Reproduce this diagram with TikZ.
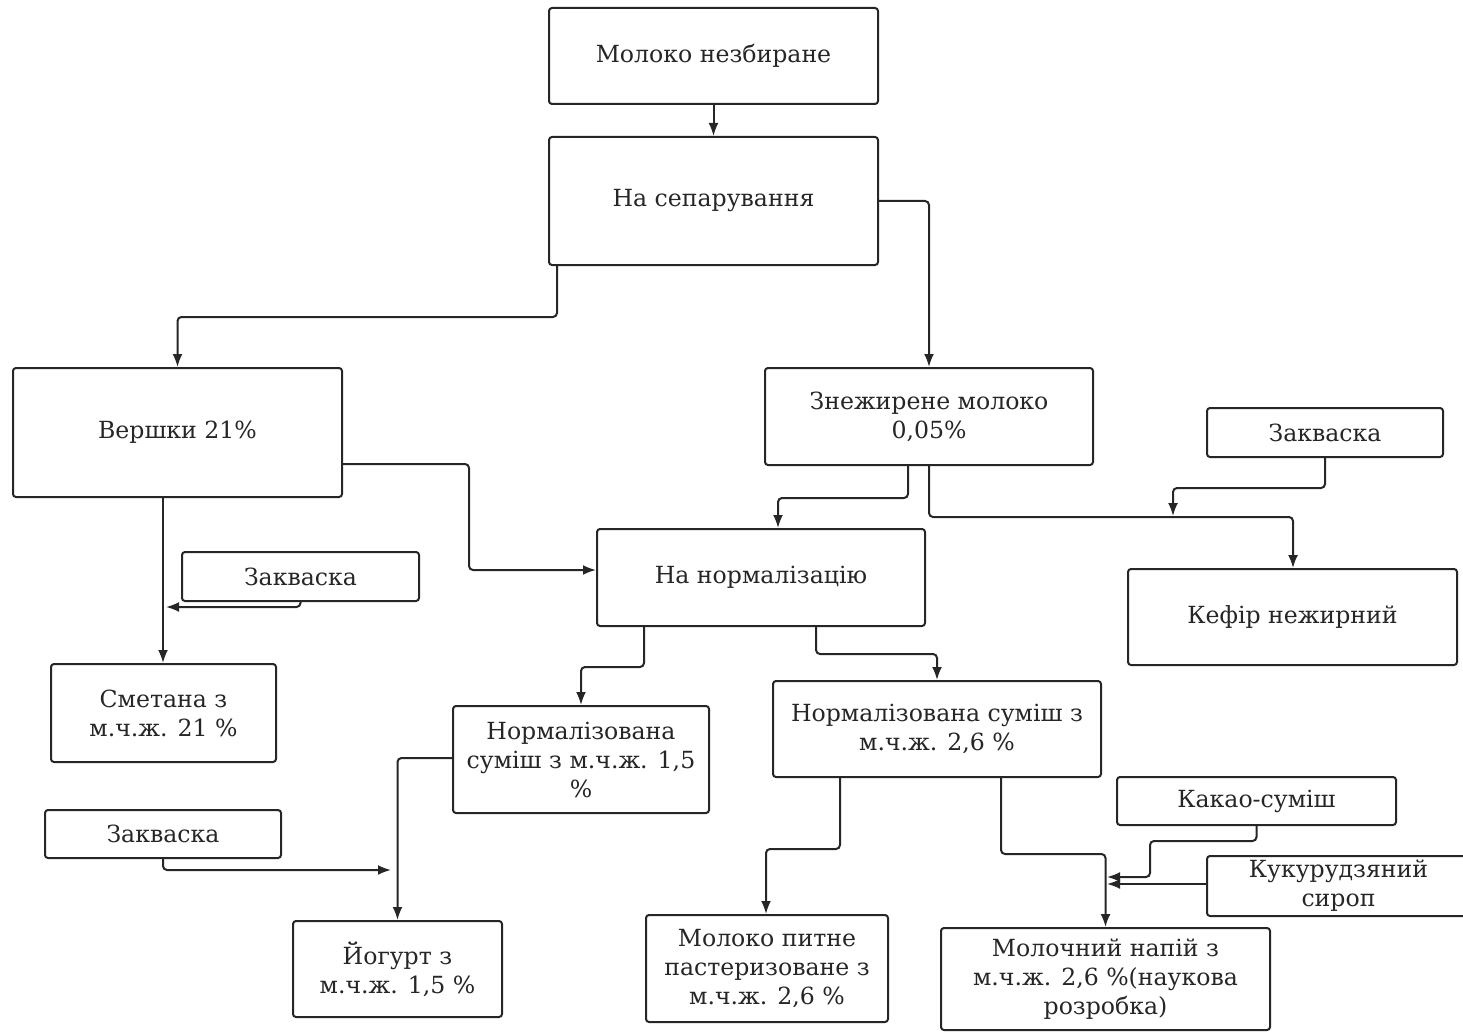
\documentclass[tikz,border=0pt]{standalone}
\usepackage{fontspec}
\setmainfont{DejaVu Serif}
\usepackage{tikz}
\usetikzlibrary{arrows.meta}
\usetikzlibrary{positioning}

\begin{document}
\begin{tikzpicture}[x=1pt,y=-1pt,
  every node/.style={draw=black!85,line width=2pt,rounded corners=3pt,align=center,inner sep=2pt,
    text=black!85,font=\fontsize{23.6}{29}\selectfont},
  arr/.style={draw=black!85,line width=2pt,rounded corners=4pt,-{Latex[length=13pt,width=10pt]}}]
  \useasboundingbox (0,0) rectangle (1463,1032);

  \node (whole) at (713.5,56)[minimum width=329pt,minimum height=96pt]{Молоко незбиране};
  \node (sep) at (713.5,201)[minimum width=329pt,minimum height=128pt]{На сепарування};
  \node (cream) at (177.5,432.5)[minimum width=329pt,minimum height=129pt]{Вершки 21\%};
  \node (skim) at (929,416.5)[minimum width=328pt,minimum height=97pt]{Знежирене молоко\\0,05\%};
  \node (zak2) at (1325,432.5)[minimum width=236pt,minimum height=49pt]{Закваска};
  \node (zak1) at (300.5,576.5)[minimum width=237pt,minimum height=49pt]{Закваска};
  \node (norm) at (761,577.5)[minimum width=328pt,minimum height=97pt]{На нормалізацію};
  \node (kefir) at (1292.5,617)[minimum width=329pt,minimum height=96pt]{Кефір нежирний};
  \node (smet) at (163.5,713)[minimum width=225pt,minimum height=98pt]{Сметана з\\м.ч.ж. 21 \%};
  \node (mix15) at (581,759.5)[minimum width=256pt,minimum height=107pt]{Нормалізована\\суміш з м.ч.ж. 1,5\\\%};
  \node (mix26) at (937,729)[minimum width=328pt,minimum height=96pt]{Нормалізована суміш з\\м.ч.ж. 2,6 \%};
  \node (zak3) at (163,834)[minimum width=236pt,minimum height=48pt]{Закваска};
  \node (cocoa) at (1256.5,801)[minimum width=279pt,minimum height=48pt]{Какао-суміш};
  \node (syrup) at (1338.5,886)[minimum width=263pt,minimum height=60pt]{Кукурудзяний\\сироп};
  \node (yog) at (397.5,969)[minimum width=209pt,minimum height=96pt]{Йогурт з\\м.ч.ж. 1,5 \%};
  \node (milk) at (767,968.5)[minimum width=242pt,minimum height=107pt]{Молоко питне\\пастеризоване з\\м.ч.ж. 2,6 \%};
  \node (drink) at (1105.5,979)[minimum width=329pt,minimum height=102pt]{Молочний напій з\\м.ч.ж. 2,6 \%(наукова\\розробка)};

  \draw[arr](whole)--(sep);
  \draw[arr](sep.east)-|(skim.north);
  \draw[arr](sep.south -| 557,0)--++(0,51)-|(cream.north);
  \draw[arr](cream.east |- 0,464)-|(469,570)--(norm.west |- 0,570);
  \draw[arr](cream.south -| 163,0)--(smet.north -| 163,0);
  \draw[arr](zak1.south)|-(166,607);
  \draw[arr](skim.south -| 908,0)--++(0,32)-|(norm.north -| 778,0);
  \draw[arr](skim.south)--++(0,51)-|(kefir.north -| 1293,0);
  \draw[arr](zak2.south)--++(0,30)-|(1173,516);
  \draw[arr](norm.south -| 644,0)--++(0,40)-|(mix15.north);
  \draw[arr](norm.south -| 816,0)--++(0,27)-|(mix26.north);
  \draw[arr](mix15.west |- 0,758)-|(yog.north);
  \draw[arr](zak3.south)|-(391,870);
  \draw[arr](mix26.south -| 840,0)--++(0,71)-|(milk.north -| 766,0);
  \draw[arr](mix26.south -| 1001,0)--++(0,76)-|(drink.north);
  \draw[arr](cocoa.south)--++(0,15)-|(1150,877)--(1107,877);
  \draw[arr](syrup.west |- 0,884)--(1107,884);
\end{tikzpicture}
\end{document}
